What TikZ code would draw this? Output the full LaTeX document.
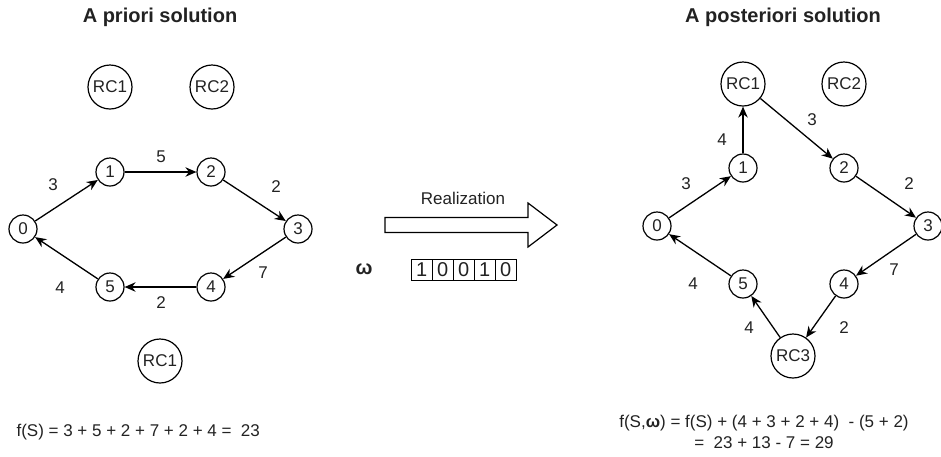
\documentclass[tikz,border=0pt]{standalone}
\usepackage{fontspec}
\setmainfont{Liberation Sans}
\usetikzlibrary{arrows.meta}
\definecolor{txt}{HTML}{222222}
\begin{document}
\begin{tikzpicture}[x=1pt,y=-1pt,
  every node/.style={text=txt, font=\fontsize{17}{21}\selectfont},
  nd/.style={circle,draw=black,line width=1.2pt,minimum size=28pt,inner sep=0pt},
  rc/.style={circle,draw=black,line width=1.2pt,minimum size=44pt,inner sep=0pt},
  lbl/.style={inner sep=0pt},
  edge/.style={draw=black,line width=1.3pt,-{Stealth[length=11pt,width=9.5pt]}},
  title/.style={font=\fontsize{20}{23}\selectfont\bfseries},
  cell/.style={draw=black,line width=1pt,minimum width=21pt,minimum height=21pt,inner sep=0pt,font=\fontsize{20}{22}\selectfont}
]
\useasboundingbox (0,0) rectangle (941,456);

% titles
\node[title] (t1) at (160,17) {A priori solution};
\node[title] (t2) at (783,17) {A posteriori solution};

% left graph
\node[nd] (a0) at (23,229) {0};
\node[nd] (a1) at (110,172) {1};
\node[nd] (a2) at (211,172) {2};
\node[nd] (a3) at (298,229) {3};
\node[nd] (a4) at (211,287) {4};
\node[nd] (a5) at (110,287) {5};
\node[rc] (arc1) at (110,87) {RC1};
\node[rc] (arc2) at (212,87) {RC2};
\node[rc] (arc1b) at (160,361) {RC1};

\draw[edge] (a0) -- (a1);
\draw[edge] (a1) -- (a2);
\draw[edge] (a2) -- (a3);
\draw[edge] (a3) -- (a4);
\draw[edge] (a4) -- (a5);
\draw[edge] (a5) -- (a0);

\node[lbl] (la1) at (53,185) {3};
\node[lbl] (la2) at (161,157) {5};
\node[lbl] (la3) at (276,187) {2};
\node[lbl] (la4) at (263,273) {7};
\node[lbl] (la5) at (161,303) {2};
\node[lbl] (la6) at (60,288) {4};

\node[anchor=west] (fl) at (13,432) {f(S) = 3 + 5 + 2 + 7 + 2 + 4 =\ \ 23};

% middle
\node (real) at (463,198) {Realization};
\draw[line width=1.2pt,line join=miter] (385,217.5) -- (528,217.5) -- (528,203) -- (557,225) -- (528,247) -- (528,232.5) -- (385,232.5) -- cycle;
\node[font=\fontsize{20}{22}\selectfont\bfseries] (om) at (364,269) {ω};
\node[cell] (c1) at (421.6,270) {1};
\node[cell] (c2) at (442.6,270) {0};
\node[cell] (c3) at (463.6,270) {0};
\node[cell] (c4) at (484.6,270) {1};
\node[cell] (c5) at (505.6,270) {0};

% right graph
\node[nd] (b0) at (657,226) {0};
\node[nd] (b1) at (743,168) {1};
\node[nd] (b2) at (844,168) {2};
\node[nd] (b3) at (928,226) {3};
\node[nd] (b4) at (844,284) {4};
\node[nd] (b5) at (743,284) {5};
\node[rc] (brc1) at (743,84) {RC1};
\node[rc] (brc2) at (844,84) {RC2};
\node[rc] (brc3) at (793,356) {RC3};

\draw[edge] (b0) -- (b1);
\draw[edge] (b1) -- (brc1);
\draw[edge] (brc1) -- (b2);
\draw[edge] (b2) -- (b3);
\draw[edge] (b3) -- (b4);
\draw[edge] (b4) -- (brc3);
\draw[edge] (brc3) -- (b5);
\draw[edge] (b5) -- (b0);

\node[lbl] (lb1) at (686,184) {3};
\node[lbl] (lb2) at (722,140) {4};
\node[lbl] (lb3) at (812,120) {3};
\node[lbl] (lb4) at (909,184) {2};
\node[lbl] (lb5) at (894,270) {7};
\node[lbl] (lb6) at (844,328) {2};
\node[lbl] (lb7) at (749,328) {4};
\node[lbl] (lb8) at (693,284) {4};

\node[align=center] (fr) at (764,432) {f(S,\textbf{ω}) = f(S) + (4 + 3 + 2 + 4)\ \ - (5 + 2)\\=\ \ 23 + 13 - 7 = 29};
\end{tikzpicture}
\end{document}
